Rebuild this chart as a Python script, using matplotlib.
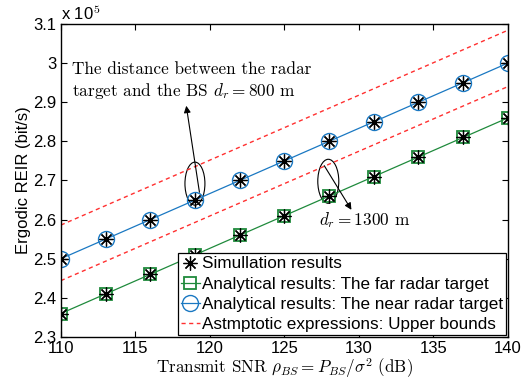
import matplotlib
matplotlib.use('Agg')
import matplotlib.pyplot as plt
from matplotlib.patches import Ellipse
from matplotlib.ticker import FormatStrFormatter

plt.rcParams['font.family'] = ['Liberation Sans', 'DejaVu Sans']
plt.rcParams['mathtext.fontset'] = 'cm'

# transmit SNR (dB)
snr = [110, 113, 116, 119, 122, 125, 128, 131, 134, 137, 140]
# ergodic REIR, in units of 1e5 bit/s
near_ana = [2.50, 2.55, 2.60, 2.65, 2.70, 2.75, 2.80, 2.85, 2.90, 2.95, 3.00]
far_ana = [2.36, 2.41, 2.46, 2.51, 2.56, 2.61, 2.66, 2.71, 2.76, 2.81, 2.86]
near_sim = [2.50, 2.55, 2.60, 2.65, 2.70, 2.75, 2.80, 2.85, 2.90, 2.95, 3.00]
far_sim = [2.36, 2.41, 2.46, 2.51, 2.56, 2.61, 2.66, 2.71, 2.76, 2.81, 2.86]
# asymptotic upper bounds, end points
bound_snr = [110, 140]
near_bound = [2.586, 3.084]
far_bound = [2.444, 2.940]

xticks = [110, 115, 120, 125, 130, 135, 140]
yticks = [2.3, 2.4, 2.5, 2.6, 2.7, 2.8, 2.9, 3.0, 3.1]

blue = '#1a78c2'
green = '#1f8a3c'
red = '#ff3030'

fig = plt.figure(figsize=(5.29, 3.81), dpi=100)
ax = fig.add_axes([0.115, 0.1155, 0.845, 0.8215])

ax.plot(bound_snr, near_bound, '--', color=red, lw=1.0, dashes=(3, 2.5))
ax.plot(bound_snr, far_bound, '--', color=red, lw=1.0, dashes=(3, 2.5))
h_far, = ax.plot(snr, far_ana, '-s', color=green, lw=0.9, ms=8.6, mfc='none', mew=1.3)
h_near, = ax.plot(snr, near_ana, '-o', color=blue, lw=0.9, ms=11.5, mfc='none', mew=1.0)
h_sim, = ax.plot(snr, near_sim, ls='none', marker=(8, 2, 0), color='k', ms=10, mew=0.9)
ax.plot(snr, far_sim, ls='none', marker=(8, 2, 0), color='k', ms=10, mew=0.9)
h_bound, = ax.plot([], [], '--', color=red, lw=1.0, dashes=(3, 2.5))

ax.set_xlim(110, 140)
ax.set_ylim(2.3, 3.1)
ax.set_xticks(xticks)
ax.set_yticks(yticks)
ax.yaxis.set_major_formatter(FormatStrFormatter('%g'))
ax.tick_params(direction='in', top=True, right=True, length=4, width=0.8, labelsize=12)
ax.tick_params(axis='x', pad=3)
ax.tick_params(axis='y', pad=3)
for s in ax.spines.values():
    s.set_linewidth(1.0)

ax.set_xlabel(r'Transmit SNR $\rho_{BS}=P_{BS}/\sigma^2$ (dB)', family='cmr10', fontsize=12.3, labelpad=0)
ax.set_ylabel('Ergodic REIR (bit/s)', fontsize=12, labelpad=2)
ax.text(0.0, 1.003, r'x 10$^{\mathsf{5}}$', transform=ax.transAxes, ha='left', va='bottom', fontsize=12)

# annotations
ax.add_patch(Ellipse((119.0, 2.692), 1.34, 0.11, fill=False, ec='k', lw=0.8))
ax.add_patch(Ellipse((127.95, 2.698), 1.41, 0.1125, fill=False, ec='k', lw=0.8))
ax.annotate('', xy=(118.39, 2.898), xytext=(119.33, 2.663),
            arrowprops=dict(arrowstyle='-|>', color='k', lw=0.8, mutation_scale=10))
ax.annotate('', xy=(129.6, 2.619), xytext=(127.58, 2.744),
            arrowprops=dict(arrowstyle='-|>', color='k', lw=0.8, mutation_scale=10))
ax.text(110.74, 2.954, 'The distance between the radar\ntarget and the BS $d_r=800$ m',
        family='cmr10', fontsize=12.4, ha='left', va='center', linespacing=1.3)
ax.text(127.3, 2.6, '$d_r=1300$ m', family='cmr10', fontsize=12.4, ha='left', va='center')

leg = ax.legend([h_sim, h_far, h_near, h_bound],
                ['Simullation results', 'Analytical results: The far radar target',
                 'Analytical results: The near radar target', 'Astmptotic expressions: Upper bounds'],
                loc='lower right', fontsize=12.3, handlelength=1.1, handletextpad=0.1,
                labelspacing=0.3, borderpad=0.2, borderaxespad=0.1, fancybox=False,
                framealpha=1, edgecolor='k')
leg.get_frame().set_linewidth(0.9)

fig.savefig('out.png', dpi=100)
